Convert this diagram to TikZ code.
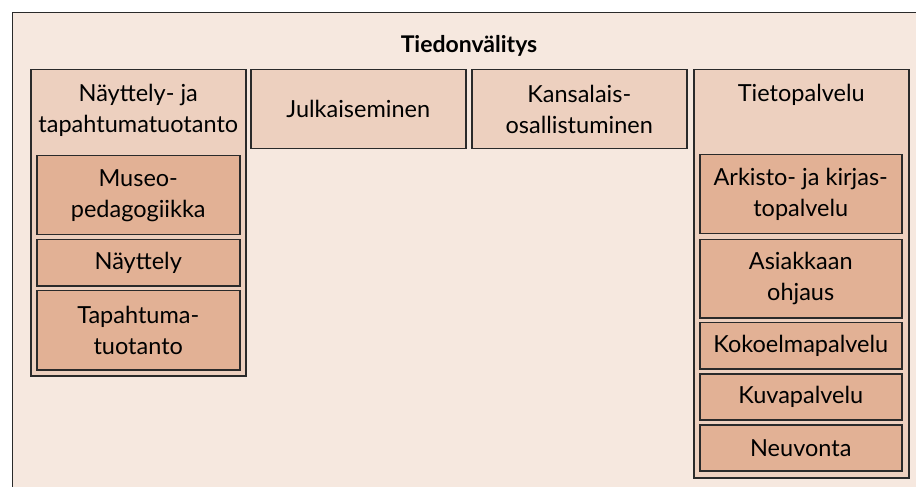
\documentclass[tikz,border=0pt]{standalone}
\usepackage{fontspec}
\setmainfont{Lato}
\definecolor{bgc}{HTML}{F6E8DF}
\definecolor{lvone}{HTML}{EDD0BF}
\definecolor{lvtwo}{HTML}{E2B195}
\definecolor{edge}{HTML}{2A2A2A}
\begin{document}
\begin{tikzpicture}[x=1bp,y=-1bp,
  txt/.style={font=\fontsize{23.5bp}{31bp}\selectfont, align=center, text=black},
  boxone/.style={draw=edge, line width=1.5bp, fill=lvone, inner sep=0pt, anchor=north west, txt},
  boxtwo/.style={draw=edge, line width=1.5bp, fill=lvtwo, inner sep=0pt, anchor=north west, txt},
  lbl/.style={txt, inner sep=0pt, anchor=north}]
\useasboundingbox (0,0) rectangle (916,487);
\fill[bgc] (12,12) rectangle (916,487);
\draw[edge, line width=1.8bp] (12.5,487) -- (12.5,12.5) -- (916,12.5);
\node[font=\bfseries\fontsize{23bp}{28bp}\selectfont, inner sep=0pt] (title) at (469,46) {Tiedonvälitys};
% column 1
\node[boxone, minimum width=215bp, minimum height=306bp] (c1) at (30,69) {};
\node[lbl] (c1t) at ([yshift=-15bp]c1.north) {Näyttely- ja\\tapahtumatuotanto};
\node[boxtwo, minimum width=203bp, minimum height=79bp] (museo) at (36,155) {Museo-\\pedagogiikka};
\node[boxtwo, minimum width=203bp, minimum height=46bp] (nayttely) at (36,239) {Näyttely};
\node[boxtwo, minimum width=203bp, minimum height=79bp] (tapahtuma) at (36,290) {Tapahtuma-\\tuotanto};
% column 2
\node[boxone, minimum width=215bp, minimum height=79bp] (julk) at (250,69) {Julkaiseminen};
% column 3
\node[boxone, minimum width=215bp, minimum height=79bp] (kans) at (471,69) {Kansalais-\\osallistuminen};
% column 4
\node[boxone, minimum width=215bp, minimum height=408bp] (c4) at (693,69) {};
\node[lbl] (c4t) at ([yshift=-15bp]c4.north) {Tietopalvelu};
\node[boxtwo, minimum width=202bp, minimum height=79bp] (arkisto) at (699,154) {Arkisto- ja kirjas-\\topalvelu};
\node[boxtwo, minimum width=202bp, minimum height=78bp] (asiakas) at (699,239) {Asiakkaan\\ohjaus};
\node[boxtwo, minimum width=202bp, minimum height=46bp] (kokoelma) at (699,322) {Kokoelmapalvelu};
\node[boxtwo, minimum width=202bp, minimum height=46bp] (kuva) at (699,373) {Kuvapalvelu};
\node[boxtwo, minimum width=202bp, minimum height=46bp] (neuvonta) at (699,424) {Neuvonta};
\end{tikzpicture}
\end{document}
